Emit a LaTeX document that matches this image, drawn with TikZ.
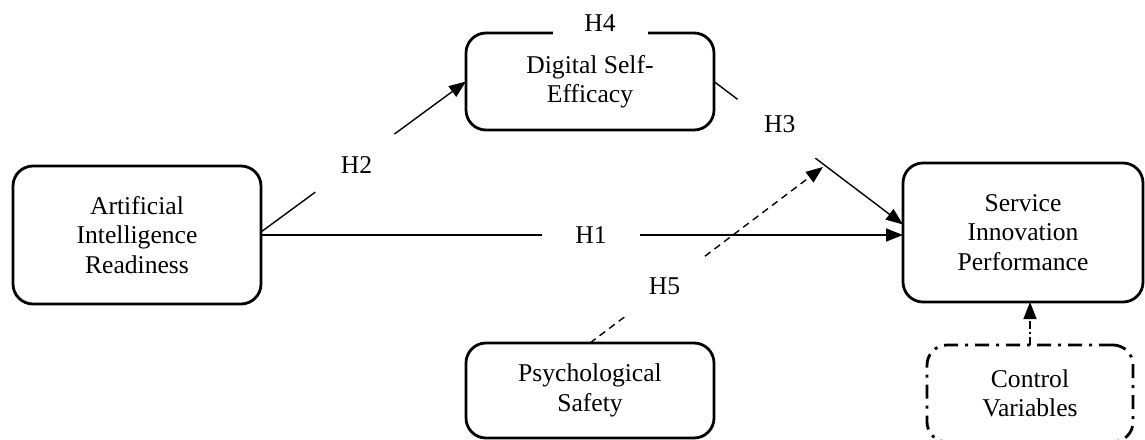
\documentclass[tikz,border=0pt]{standalone}
\usepackage{fontspec}
\setmainfont{Liberation Serif}
\usetikzlibrary{arrows.meta}
\begin{document}
\begin{tikzpicture}[x=1pt,y=-1pt,
  txt/.style={font=\fontsize{25.6}{29.5}\selectfont},
  box/.style={draw, line width=2.8pt, rounded corners=20pt, align=center, inner sep=0pt, outer sep=0pt, txt},
  conn/.style={line width=1.4pt},
  tip/.style={-{Triangle[length=17pt,width=13pt]}},
  gap/.style={circle, fill=white, minimum size=98pt, inner sep=0pt, txt},
  dashdot/.style={dash pattern=on 14pt off 7pt on 3pt off 7pt},
]
\useasboundingbox (0,0) rectangle (1145,439);
\node[box, minimum width=248pt, minimum height=138pt] (air) at (137,235) {Artificial\\Intelligence\\Readiness};
\node[box, minimum width=248pt, minimum height=97pt] (dse) at (590,81.5) {Digital Self-\\Efficacy};
\node[box, minimum width=240pt, minimum height=139pt] (sip) at (1023,232.5) {Service\\Innovation\\Performance};
\node[box, minimum width=248pt, minimum height=95pt] (ps) at (590,390.5) {Psychological\\Safety};
\node[box, dashdot, minimum width=206pt, minimum height=97pt] (cv) at (1030,393.5) {Control\\Variables};
\node[fill=white, minimum width=95pt, minimum height=26pt, inner sep=0pt, txt] (h4) at (600,23) {H4};
\coordinate (mod) at (823,167);
\draw[conn, tip] (air.east) -- node[gap, pos=0.514] (h1) {H1} (air.east -| sip.west);
\draw[conn, tip] ([yshift=3pt]air.east) -- node[gap, pos=0.49, xshift=-5pt, yshift=-7pt] (h2) {H2} (dse.west);
\draw[conn, tip] (dse.east) -- node[gap, pos=0.30, xshift=9pt] (h3) {H3} ([yshift=8pt]sip.west);
\draw[conn, tip, dash pattern=on 7pt off 5pt] (ps.north) -- node[gap, pos=0.32] (h5) {H5} (mod);
\draw[conn, tip, dash pattern=on 8pt off 3pt on 2pt off 3pt] (cv.north) -- (cv.north |- sip.south);
\end{tikzpicture}
\end{document}
